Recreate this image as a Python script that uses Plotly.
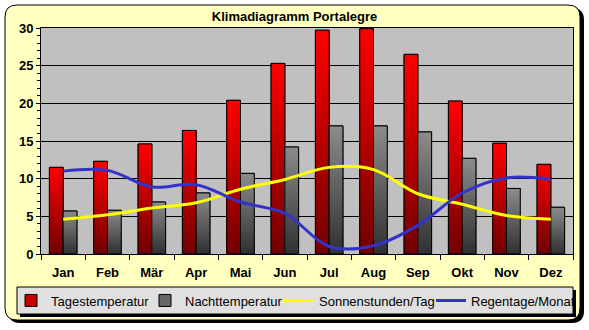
import plotly.graph_objects as go

months = ['Jan', 'Feb', 'Mär', 'Apr', 'Mai', 'Jun', 'Jul', 'Aug', 'Sep', 'Okt', 'Nov', 'Dez']
tagestemp = [11.5, 12.3, 14.6, 16.4, 20.4, 25.3, 29.7, 29.9, 26.5, 20.3, 14.7, 11.9]
nachttemp = [5.7, 5.8, 6.9, 8.1, 10.7, 14.2, 17.0, 17.0, 16.2, 12.7, 8.7, 6.2]
sonnenstunden = [4.6, 5.2, 6.1, 6.8, 8.6, 9.9, 11.5, 11.2, 8.0, 6.6, 5.1, 4.6]
regentage = [11.0, 11.1, 8.9, 9.2, 6.9, 5.4, 1.0, 1.1, 3.8, 8.1, 10.1, 9.9]
yticks = [0, 5, 10, 15, 20, 25, 30]

W, H = 589, 330
ML, MR, MT, MB = 41, 16, 28, 76
PW = W - ML - MR
PH = H - MT - MB


def px(x):
    return (x - ML) / PW


def py(y):
    return (H - MB - y) / PH


def rrect(x0, y0, x1, y1, r):
    rx = r / PW
    ry = r / PH
    X0, X1 = px(x0), px(x1)
    Y0, Y1 = py(y0), py(y1)  # Y0 top (larger), Y1 bottom
    return (f"M{X0+rx},{Y0} L{X1-rx},{Y0} Q{X1},{Y0} {X1},{Y0-ry} "
            f"L{X1},{Y1+ry} Q{X1},{Y1} {X1-rx},{Y1} "
            f"L{X0+rx},{Y1} Q{X0},{Y1} {X0},{Y1+ry} "
            f"L{X0},{Y0-ry} Q{X0},{Y0} {X0+rx},{Y0} Z")


fig = go.Figure()

BW = 0.31
N = 28


def lerp(c0, c1, t):
    return 'rgb(%d,%d,%d)' % tuple(round(a + (b - a) * t) for a, b in zip(c0, c1))


def add_gradient_bars(vals, name, top, bottom, offset, legend):
    # legend-carrying base bar (covered by the gradient segments)
    fig.add_trace(go.Bar(x=months, y=vals, name=name, width=BW, offset=offset,
                         legend=legend,
                         marker=dict(color=lerp(bottom, top, 0.6),
                                     line=dict(color='black', width=1)),
                         hoverinfo='skip'))
    for k in range(0, N):
        f = 1 - k / N
        h = 1 - (k + 0.5) / N
        fig.add_trace(go.Bar(x=months, y=[v * f for v in vals], width=BW,
                             offset=offset, showlegend=False,
                             marker=dict(color=lerp(bottom, top, h), line=dict(width=0)),
                             hoverinfo='skip'))
    # outline on top
    fig.add_trace(go.Bar(x=months, y=vals, width=BW, offset=offset, showlegend=False,
                         marker=dict(color='rgba(0,0,0,0)',
                                     line=dict(color='black', width=1)),
                         hoverinfo='skip'))


add_gradient_bars(tagestemp, 'Tagestemperatur', (255, 0, 0), (112, 0, 0), -BW, 'legend')
add_gradient_bars(nachttemp, 'Nachttemperatur', (140, 140, 140), (48, 48, 48), 0.0, 'legend2')

fig.add_trace(go.Scatter(x=months, y=sonnenstunden, name='Sonnenstunden/Tag', mode='lines',
                         legend='legend3',
                         line=dict(color='#FFFF00', width=3, shape='spline', smoothing=1.0)))
fig.add_trace(go.Scatter(x=months, y=regentage, name='Regentage/Monat', mode='lines',
                         legend='legend4',
                         line=dict(color='#3333CC', width=3, shape='spline', smoothing=1.0)))

shapes = [
    dict(type='path', xref='paper', yref='paper', layer='below',
         path=rrect(8, 8, 584, 323, 12), fillcolor='black', line=dict(width=0)),
    dict(type='path', xref='paper', yref='paper', layer='below',
         path=rrect(5, 5, 580, 320, 12), fillcolor='#FFFFC0', line=dict(color='black', width=1)),
    dict(type='rect', xref='paper', yref='paper', layer='below',
         x0=0, x1=1, y0=0, y1=1, fillcolor='#C0C0C0', line=dict(width=0)),
    dict(type='rect', xref='paper', yref='paper', layer='below',
         x0=px(20), x1=px(576), y0=py(317), y1=py(290), fillcolor='black', line=dict(width=0)),
    dict(type='rect', xref='paper', yref='paper', layer='below',
         x0=px(17), x1=px(573), y0=py(314), y1=py(287), fillcolor='#E0E0E0',
         line=dict(color='black', width=1)),
]

FONT = 'Liberation Sans, Arial, sans-serif'


def leg(xpix):
    return dict(orientation='h', x=px(xpix), y=py(300.5), xanchor='left', yanchor='middle',
                bgcolor='rgba(0,0,0,0)', borderwidth=0,
                font=dict(family=FONT, size=13, color='black'), itemwidth=30)


fig.update_layout(
    width=W, height=H,
    margin=dict(l=ML, r=MR, t=MT, b=MB, pad=0, autoexpand=False),
    paper_bgcolor='white',
    plot_bgcolor='rgba(0,0,0,0)',
    barmode='overlay',
    shapes=shapes,
    title=dict(text='Klimadiagramm Portalegre', x=0.5, xref='container', xanchor='center',
               y=1 - 16 / H, yref='container', yanchor='middle',
               font=dict(family=FONT, size=13, color='black', weight='bold')),
    showlegend=True,
    legend=leg(11), legend2=leg(145), legend3=leg(279), legend4=leg(431),
    xaxis=dict(type='category', categoryorder='array', categoryarray=months,
               showgrid=False, showline=True, linecolor='black', linewidth=1, mirror=True,
               ticks='outside', tickson='boundaries', ticklen=5, tickcolor='black',
               ticklabelstandoff=6,
               tickfont=dict(family=FONT, size=13, color='black', weight='bold')),
    yaxis=dict(range=[0, 30], tickvals=yticks, showgrid=True, gridcolor='black', gridwidth=1,
               zeroline=False, showline=True, linecolor='black', linewidth=1, mirror=True,
               ticks='outside', ticklen=4, tickcolor='black',
               minor=dict(dtick=1, ticks='outside', ticklen=3, tickcolor='black', showgrid=False),
               tickfont=dict(family=FONT, size=13, color='black', weight='bold')),
)

fig.write_html('out.html')
